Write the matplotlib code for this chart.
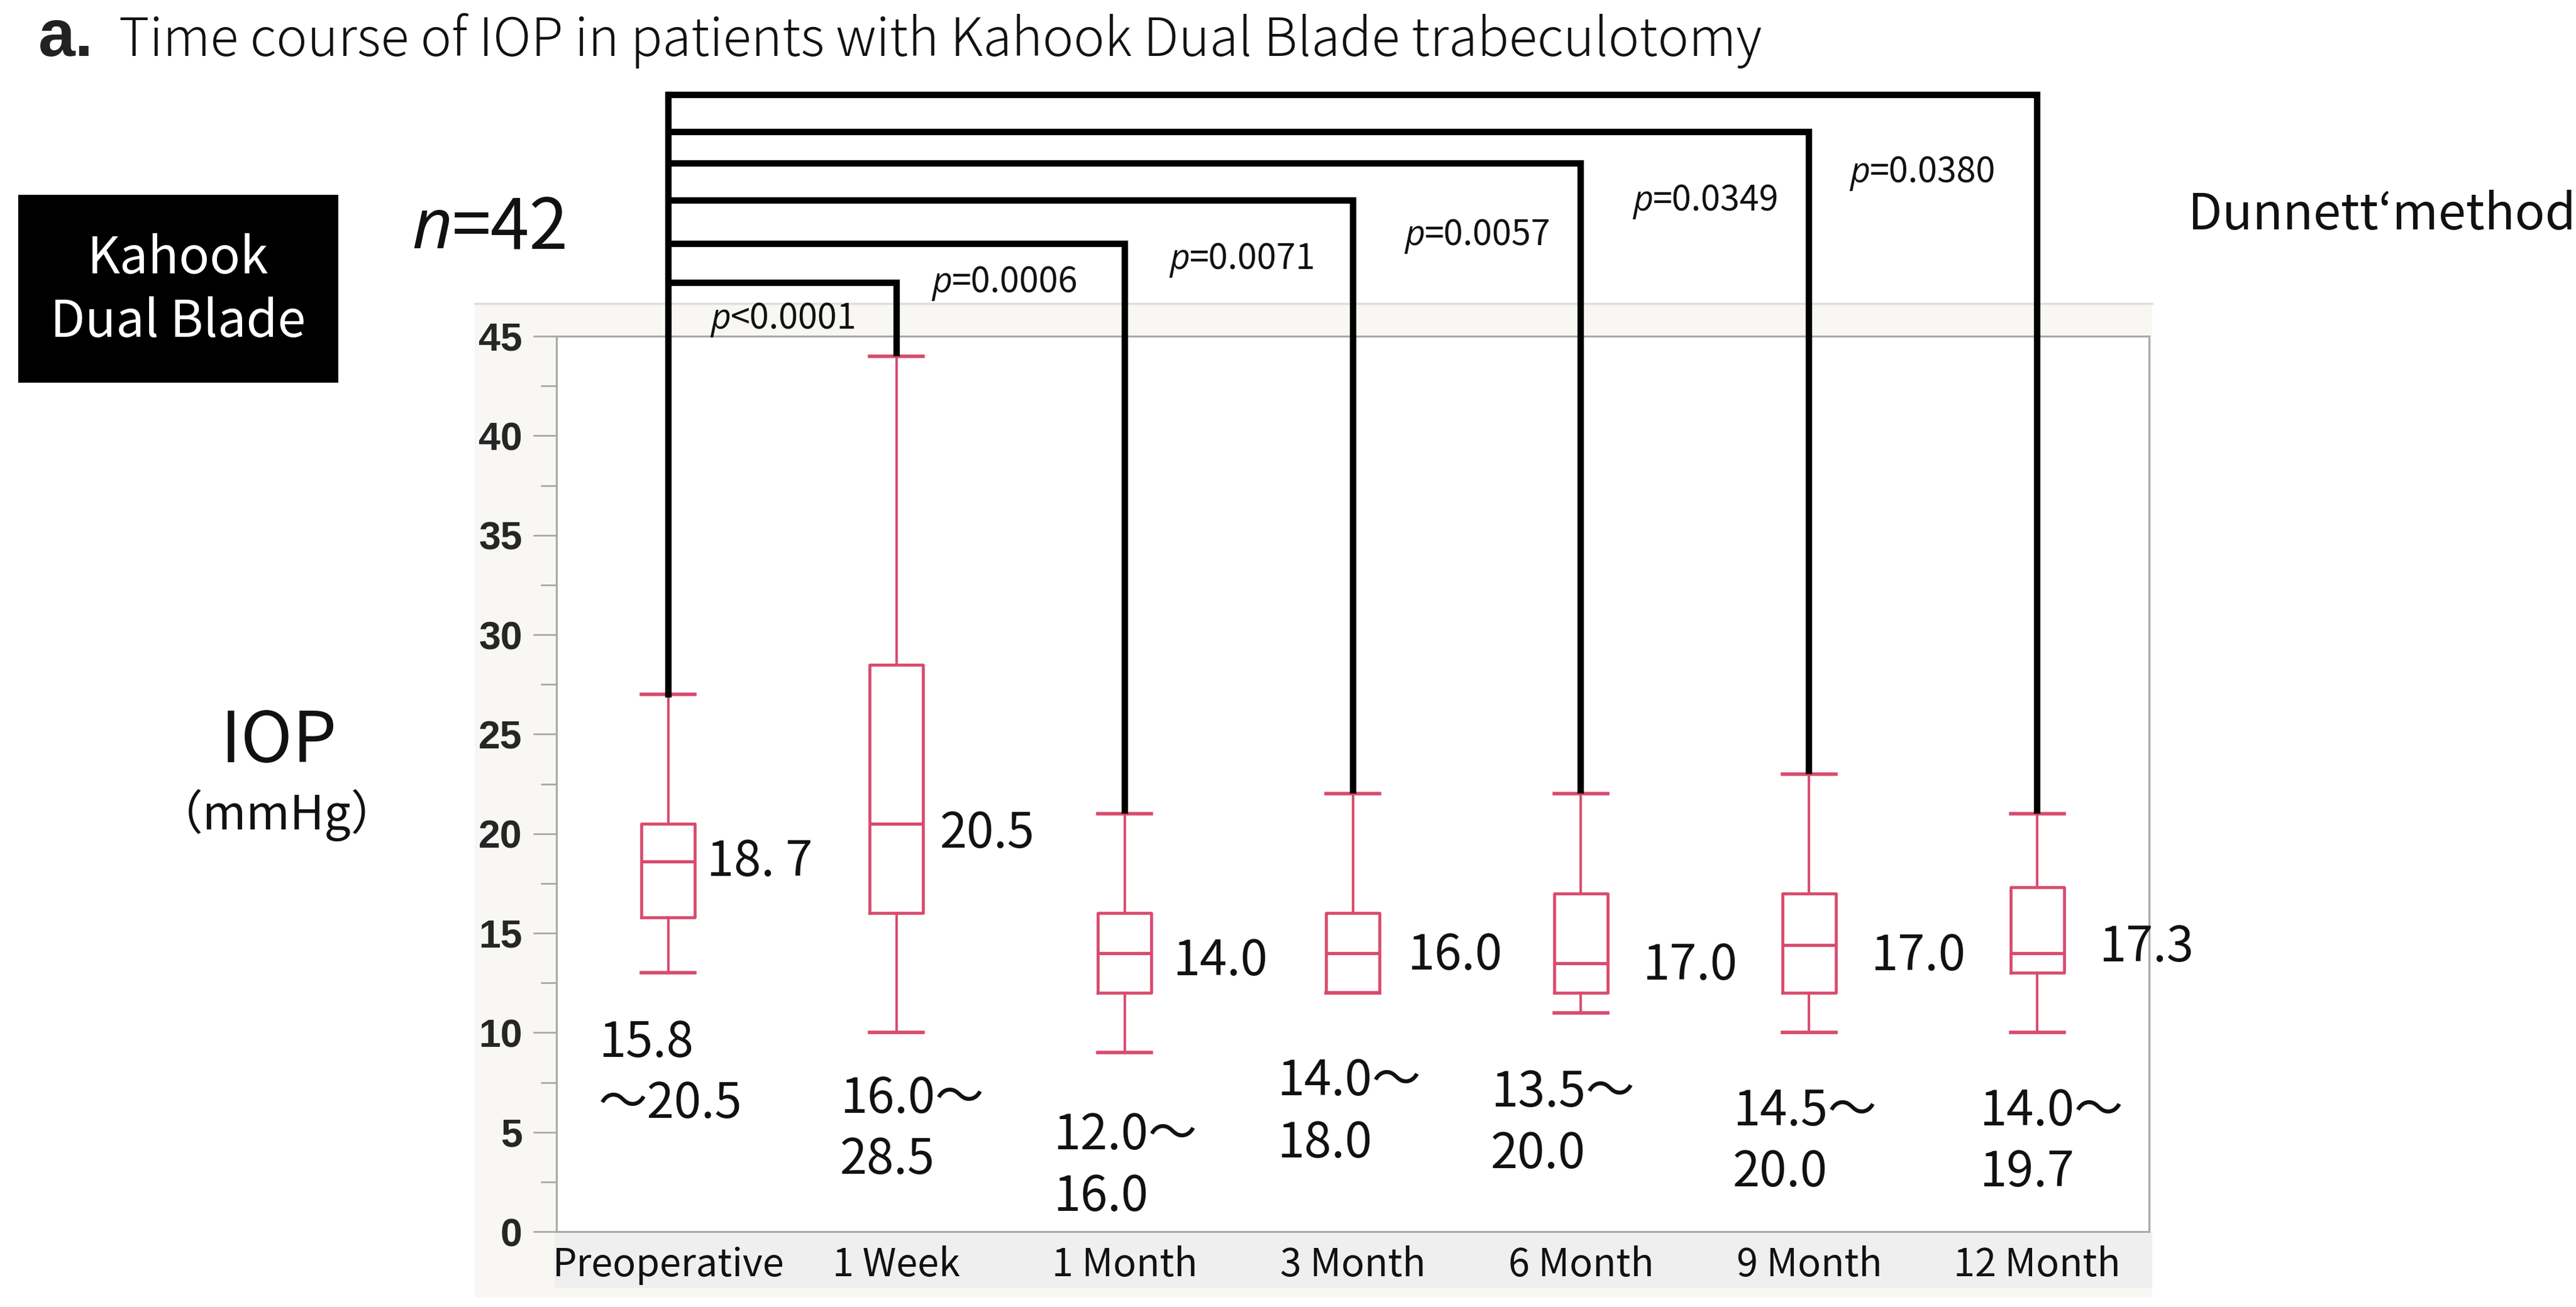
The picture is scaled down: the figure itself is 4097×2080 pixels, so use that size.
import matplotlib
matplotlib.use("Agg")
import matplotlib.pyplot as plt
from matplotlib.patches import Rectangle
from matplotlib.lines import Line2D
from matplotlib.text import Annotation

# ---------------- data ----------------
categories = ["Preoperative", "1 Week", "1 Month", "3 Month", "6 Month", "9 Month", "12 Month"]
whisker_low = [13.0, 10.0, 9.0, 12.0, 11.0, 10.0, 10.0]
q1 = [15.8, 16.0, 12.0, 12.0, 12.0, 12.0, 13.0]
median = [18.6, 20.5, 14.0, 14.0, 13.5, 14.4, 14.0]
q3 = [20.5, 28.5, 16.0, 16.0, 17.0, 17.0, 17.3]
whisker_high = [27.0, 44.0, 21.0, 22.0, 22.0, 23.0, 21.0]

value_labels = ["18. 7", "20.5", "14.0", "16.0", "17.0", "17.0", "17.3"]
range_line1 = ["15.8", "16.0～", "12.0～", "14.0～", "13.5～", "14.5～", "14.0～"]
range_line2 = ["～20.5", "28.5", "16.0", "18.0", "20.0", "20.0", "19.7"]

p_signs = ["<", "=", "=", "=", "=", "="]
p_values = ["0.0001", "0.0006", "0.0071", "0.0057", "0.0349", "0.0380"]
yticks = [0, 5, 10, 15, 20, 25, 30, 35, 40, 45]

# ---------------- layout (positions in data units) ----------------
value_label_x = [0.168, 1.19, 2.21, 3.24, 4.27, 5.27, 6.27]
value_label_y = [17.87, 19.29, 12.88, 13.17, 12.66, 13.14, 13.58]
range_x = [-0.306, 0.753, 1.687, 2.669, 3.604, 4.665, 5.746]
range_y1 = [8.78, 5.97, 4.14, 6.85, 6.28, 5.34, 5.34]
range_y2 = [5.72, 2.90, 1.04, 3.73, 3.19, 2.27, 2.27]
bracket_levels = [47.69, 49.65, 51.83, 53.67, 55.25, 57.14]
p_x = [0.185, 1.155, 2.197, 3.228, 4.228, 5.178]
p_y = [45.37, 47.20, 48.37, 49.57, 51.31, 52.73]

BOX = "#d84b6e"
GREY = "#a9a9a9"
CJK = ["Noto Sans CJK JP", "DejaVu Sans"]
ITAL = ["Open Sans", "DejaVu Sans"]

W, H = 4097, 2080
fig = plt.figure(figsize=(W / 100, H / 100), dpi=100)
fig.patch.set_facecolor("white")


def fx(px):
    return px / W


def fy(py):
    return (H - py) / H


# background panels (JMP-like frame)
fig.add_artist(Rectangle((fx(755), fy(2065)), fx(3423) - fx(755), fy(482) - fy(2065),
                         transform=fig.transFigure, facecolor="#f8f7f4", edgecolor="none", zorder=0))
fig.add_artist(Line2D([fx(755), fx(3423)], [fy(483), fy(483)], transform=fig.transFigure,
                      color="#dedede", linewidth=2.5, zorder=0.5))
fig.add_artist(Rectangle((fx(882), fy(2050)), fx(3423) - fx(882), fy(1960) - fy(2050),
                         transform=fig.transFigure, facecolor="#efefef", edgecolor="none", zorder=0.2))

ax = fig.add_axes([fx(885), fy(1960), fx(3418) - fx(885), fy(535) - fy(1960)])
ax.set_facecolor("white")
ax.set_zorder(1)

stats = []
for i in range(len(categories)):
    stats.append(dict(med=median[i], q1=q1[i], q3=q3[i], whislo=whisker_low[i],
                      whishi=whisker_high[i], fliers=[]))
positions = list(range(len(categories)))
ax.bxp(stats, positions=positions, widths=0.235, capwidths=0.235, showfliers=False,
       boxprops=dict(color=BOX, linewidth=3.4),
       whiskerprops=dict(color=BOX, linewidth=2.8),
       capprops=dict(color=BOX, linewidth=4.0),
       medianprops=dict(color=BOX, linewidth=3.6))

ax.set_xlim(-0.49, 6.49)
ax.set_ylim(0, 45)
ax.set_yticks(yticks)
ax.set_yticks([y + 2.5 for y in yticks[:-1]], minor=True)
ax.set_yticklabels([str(v) for v in yticks], fontsize=45, family=["Liberation Sans"],
                   weight="bold", color="#262626")
ax.set_xticks(positions)
ax.set_xticklabels(categories, fontsize=44, family=CJK, color="#111111")
ax.tick_params(axis="y", which="major", direction="out", length=27, width=2, color=GREY, pad=12)
ax.tick_params(axis="y", which="minor", direction="out", length=18, width=2, color=GREY)
ax.tick_params(axis="x", which="both", length=0, pad=16)
for s in ax.spines.values():
    s.set_color(GREY)
    s.set_linewidth(2.2)

# value labels to the right of the boxes and IQR ranges below
for i in range(len(categories)):
    ax.text(value_label_x[i], value_label_y[i], value_labels[i], fontsize=56, family=CJK,
            ha="left", va="baseline", color="#111111")
    ax.text(range_x[i], range_y1[i], range_line1[i], fontsize=56, family=CJK,
            ha="left", va="baseline", color="#111111")
    ax.text(range_x[i], range_y2[i], range_line2[i], fontsize=56, family=CJK,
            ha="left", va="baseline", color="#111111")

# Dunnett brackets
LW = 7.4
ax.add_line(Line2D([0, 0], [whisker_high[0], max(bracket_levels)], color="black",
                   linewidth=LW, clip_on=False, zorder=5, solid_capstyle="projecting"))
for k, lvl in enumerate(bracket_levels):
    j = k + 1
    ax.add_line(Line2D([0, j, j], [lvl, lvl, whisker_high[j]], color="black", linewidth=LW,
                       clip_on=False, zorder=5, solid_joinstyle="miter", solid_capstyle="butt"))

# p-values
for k in range(len(p_values)):
    t = ax.text(p_x[k], p_y[k], "p", fontsize=40, family=ITAL, style="italic",
                ha="left", va="baseline", color="#111111", clip_on=False)
    ax.annotate(p_signs[k] + p_values[k], xy=(1, p_y[k]), xycoords=(t, "data"),
                fontsize=40, family=CJK, ha="left", va="baseline", color="#111111",
                annotation_clip=False)

# figure texts
fig.text(fx(61), fy(89), "a.", fontsize=76, family=["Liberation Sans"], weight="bold",
         color="#222222", ha="left", va="baseline")
fig.text(fx(189), fy(89), "Time course of IOP in patients with Kahook Dual Blade trabeculotomy",
         fontsize=60, family=CJK, weight="light", color="#111111", ha="left", va="baseline")

fig.add_artist(Rectangle((fx(29), fy(609)), fx(538) - fx(29), fy(310) - fy(609),
                         transform=fig.transFigure, facecolor="black", edgecolor="none", zorder=2))
fig.text(fx(283), fy(435), "Kahook", fontsize=58, family=CJK, color="white",
         ha="center", va="baseline", zorder=3)
fig.text(fx(283), fy(536), "Dual Blade", fontsize=58, family=CJK, color="white",
         ha="center", va="baseline", zorder=3)

tn = fig.text(fx(655), fy(395), "n", fontsize=80, family=ITAL, style="italic",
              color="#111111", ha="left", va="baseline")
fig.add_artist(Annotation("=42", xy=(1, fy(395)), xycoords=(tn, fig.transFigure),
                          fontsize=80, family=CJK, color="#111111",
                          ha="left", va="baseline"))

fig.text(fx(443), fy(1213), "IOP", fontsize=80, family=CJK, color="#111111",
         ha="center", va="baseline")
fig.text(fx(441), fy(1320), "（mmHg）", fontsize=54, family=CJK, color="#111111",
         ha="center", va="baseline")
fig.text(fx(3480), fy(365), "Dunnett‘method", fontsize=57, family=CJK, color="#111111",
         ha="left", va="baseline")

fig.savefig("out.png", dpi=100, facecolor="white")
